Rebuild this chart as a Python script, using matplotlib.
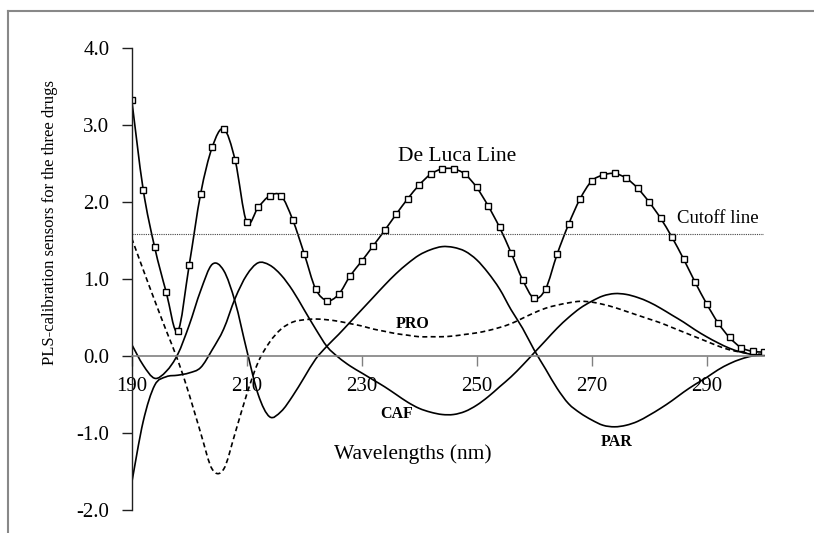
import matplotlib
matplotlib.use("Agg")
import matplotlib.pyplot as plt
from matplotlib.lines import Line2D
from matplotlib.path import Path
from matplotlib.patches import PathPatch
import numpy as np

plt.rcParams['font.family'] = ['Liberation Serif', 'DejaVu Serif']
plt.rcParams['axes.unicode_minus'] = False

# wavelengths (nm), 2 nm step
wl = np.arange(190, 301, 2)

# PLS calibration sensors
par = [0.15, -0.12, -0.29, -0.20, 0.02, 0.40, 0.85, 1.19, 1.11, 0.70,
       0.08, -0.50, -0.79, -0.72, -0.52, -0.28, -0.04, 0.13, 0.28, 0.44,
       0.60, 0.76, 0.92, 1.07, 1.20, 1.31, 1.38, 1.42, 1.41, 1.36,
       1.25, 1.08, 0.87, 0.60, 0.36, 0.08, -0.17, -0.42, -0.62, -0.74,
       -0.83, -0.90, -0.92, -0.90, -0.85, -0.77, -0.68, -0.58, -0.47, -0.37,
       -0.28, -0.18, -0.10, -0.04, 0.00, 0.01]
caf = [-1.65, -0.85, -0.38, -0.27, -0.25, -0.22, -0.15, 0.08, 0.35, 0.75,
       1.05, 1.21, 1.18, 1.05, 0.85, 0.60, 0.35, 0.12, -0.02, -0.13,
       -0.22, -0.31, -0.40, -0.50, -0.60, -0.68, -0.73, -0.76, -0.76, -0.72,
       -0.64, -0.53, -0.40, -0.27, -0.12, 0.04, 0.20, 0.36, 0.50, 0.62,
       0.71, 0.78, 0.81, 0.80, 0.76, 0.70, 0.62, 0.53, 0.44, 0.34,
       0.25, 0.17, 0.10, 0.05, 0.02, 0.01]
pro = [1.53, 1.12, 0.72, 0.33, -0.05, -0.50, -1.00, -1.47, -1.47, -1.00,
       -0.50, -0.08, 0.18, 0.35, 0.44, 0.47, 0.48, 0.47, 0.45, 0.42,
       0.39, 0.35, 0.32, 0.29, 0.27, 0.25, 0.25, 0.25, 0.26, 0.28,
       0.30, 0.33, 0.37, 0.42, 0.49, 0.56, 0.62, 0.66, 0.69, 0.71,
       0.70, 0.67, 0.63, 0.58, 0.53, 0.48, 0.43, 0.37, 0.31, 0.25,
       0.19, 0.13, 0.08, 0.05, 0.03, 0.02]
deluca = [3.33, 2.16, 1.41, 0.83, 0.32, 1.18, 2.11, 2.71, 2.95, 2.54,
          1.74, 1.93, 2.08, 2.08, 1.77, 1.33, 0.87, 0.72, 0.80, 1.04,
          1.23, 1.43, 1.63, 1.84, 2.04, 2.22, 2.36, 2.43, 2.43, 2.36,
          2.19, 1.95, 1.67, 1.34, 0.99, 0.75, 0.87, 1.32, 1.71, 2.04,
          2.27, 2.35, 2.37, 2.31, 2.18, 2.00, 1.79, 1.54, 1.26, 0.96,
          0.68, 0.43, 0.24, 0.11, 0.06, 0.05]
cutoff = 1.58


def smooth_line(ax, x, y, **kw):
    # spreadsheet-style smoothed line: cubic Bezier segments through the points
    p = np.column_stack([x, y]).astype(float)
    ext = np.vstack([p[0], p, p[-1]])
    verts = [p[0]]
    codes = [Path.MOVETO]
    for i in range(len(p) - 1):
        p0, p1, p2, p3 = ext[i], ext[i + 1], ext[i + 2], ext[i + 3]
        verts += [p1 + (p2 - p0) / 6, p2 - (p3 - p1) / 6, p2]
        codes += [Path.CURVE4] * 3
    ax.add_patch(PathPatch(Path(verts, codes), fill=False, **kw))


fig = plt.figure(figsize=(8.14, 5.33), dpi=100)
ax = fig.add_axes([0.1618, 0.0432, 0.7768, 0.8668])

smooth_line(ax, wl, par, edgecolor='black', lw=1.2)
smooth_line(ax, wl, caf, edgecolor='black', lw=1.2)
smooth_line(ax, wl, pro, edgecolor='black', lw=1.2, linestyle=(0, (3, 2)))
smooth_line(ax, wl, deluca, edgecolor='black', lw=1.2)
ax.plot(wl, deluca, linestyle='none', marker='s', markersize=4.5,
        markerfacecolor='white', markeredgecolor='black', markeredgewidth=1.0)
ax.plot([wl[0], wl[-1]], [cutoff, cutoff], color='#444444', lw=0.8,
        linestyle=(0, (1, 1)))

ax.set_xlim(190, 300)
ax.set_ylim(-2, 4)
ax.set_xticks(np.arange(190, 300, 20))
ax.set_yticks(np.arange(-2, 4.1, 1))
ax.set_yticklabels(['%.1f' % v for v in np.arange(-2, 4.1, 1)])

ax.spines['top'].set_visible(False)
ax.spines['right'].set_visible(False)
ax.spines['bottom'].set_position(('data', 0))
ax.spines['bottom'].set_color('#808080')
ax.spines['bottom'].set_linewidth(1.2)
ax.spines['left'].set_color('#202020')
ax.spines['left'].set_linewidth(1.0)
ax.tick_params(axis='x', direction='out', length=7, width=1.0,
               color='#808080', pad=8, labelsize=15)
ax.tick_params(axis='y', direction='out', length=7, width=1.0,
               color='#202020', pad=9, labelsize=15)

ax.text(246.6, 2.59, 'De Luca Line', fontsize=15.5, ha='center', va='center')
ax.text(291.9, 1.79, 'Cutoff line', fontsize=13.5, ha='center', va='center')
ax.text(238.9, 0.41, 'PRO', fontsize=11.5, fontweight='bold', ha='center', va='center')
ax.text(236.0, -0.75, 'CAF', fontsize=11.5, fontweight='bold', ha='center', va='center')
ax.text(274.3, -1.12, 'PAR', fontsize=11.5, fontweight='bold', ha='center', va='center')
ax.text(238.9, -1.28, 'Wavelengths (nm)', fontsize=15.5, ha='center', va='center')

fig.text(50 / 814, 1 - 222.5 / 533, 'PLS-calibration sensors for the three drugs',
         rotation=90, fontsize=12, ha='center', va='center')

# outer frame (top and left edges)
fig.add_artist(Line2D([8 / 814, 1.0], [1 - 11 / 533, 1 - 11 / 533],
                      transform=fig.transFigure, color='#888888', lw=1.5))
fig.add_artist(Line2D([8 / 814, 8 / 814], [0.0, 1 - 11 / 533],
                      transform=fig.transFigure, color='#888888', lw=1.5))

fig.savefig('out.png', dpi=100)
